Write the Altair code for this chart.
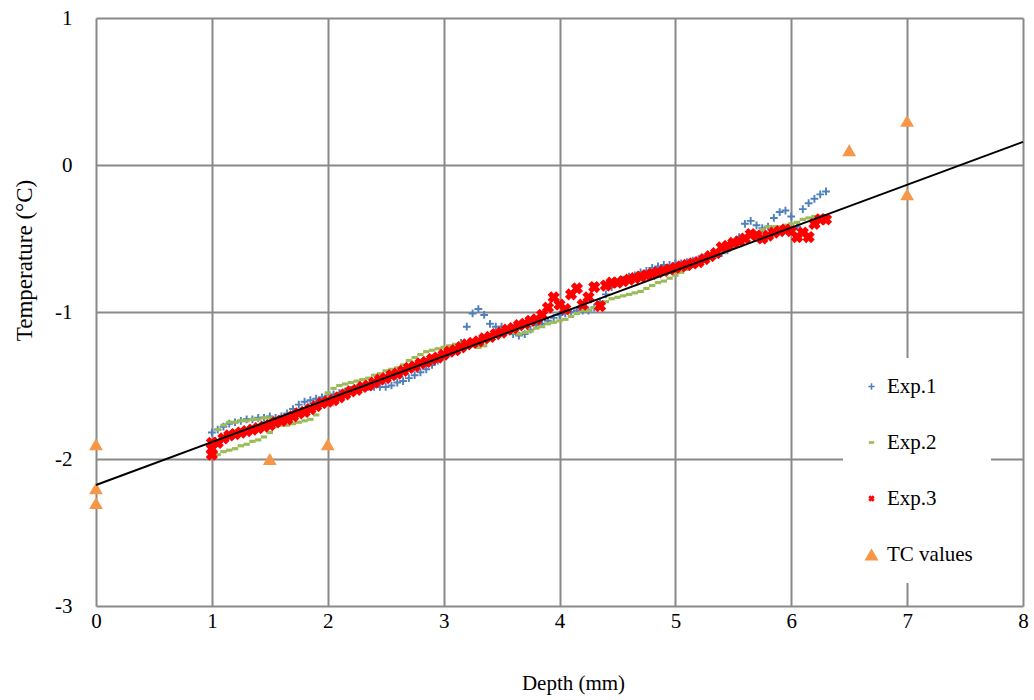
import altair as alt
import pandas as pd

# Depth grid of the probe readings (mm), sampled every 0.05 mm from 1.00 mm
DEPTH_START = 1.0
DEPTH_STEP = 0.05

# Exp.1 temperatures (°C)
exp1 = [
    -1.82, -1.80, -1.78, -1.76, -1.75, -1.74, -1.73, -1.73, -1.72, -1.72,
    -1.71, -1.72, -1.71, -1.69, -1.66, -1.63, -1.61, -1.60, -1.59, -1.58,
    -1.57, -1.56, -1.55, -1.54, -1.53, -1.52, -1.51, -1.51, -1.51, -1.51,
    -1.51, -1.50, -1.48, -1.47, -1.45, -1.43, -1.41, -1.39, -1.36, -1.33,
    -1.30, -1.28, -1.26, -1.21, -1.10, -1.01, -0.98, -1.02, -1.08, -1.10,
    -1.10, -1.12, -1.15, -1.16, -1.15, -1.12, -1.09, -1.08, -1.06, -1.04,
    -1.02, -1.01, -1.00, -0.99, -0.99, -0.99, -0.97, -0.93, -0.88, -0.83,
    -0.80, -0.78, -0.76, -0.75, -0.73, -0.72, -0.70, -0.69, -0.68, -0.68,
    -0.67, -0.67, -0.66, -0.65, -0.64, -0.63, -0.62, -0.61, -0.60, -0.58,
    -0.55, -0.49, -0.40, -0.38, -0.41, -0.43, -0.42, -0.36, -0.32, -0.31,
    -0.35, -0.42, -0.30, -0.26, -0.23, -0.20, -0.18,
]

# Exp.2 temperatures (°C)
exp2 = [
    -1.97, -1.97, -1.95, -1.94, -1.93, -1.91, -1.90, -1.88, -1.87, -1.85,
    -1.82, -1.78, -1.77, -1.77, -1.76, -1.75, -1.74, -1.73, -1.70, -1.62,
    -1.55, -1.52, -1.50, -1.49, -1.48, -1.47, -1.46, -1.45, -1.43, -1.42,
    -1.40, -1.39, -1.38, -1.36, -1.33, -1.31, -1.29, -1.27, -1.26, -1.25,
    -1.24, -1.23, -1.22, -1.21, -1.22, -1.23, -1.24, -1.23, -1.18, -1.14,
    -1.14, -1.14, -1.14, -1.15, -1.14, -1.13, -1.11, -1.10, -1.08, -1.07,
    -1.06, -1.05, -1.03, -1.01, -0.99, -0.99, -0.97, -0.95, -0.93, -0.91,
    -0.90, -0.89, -0.88, -0.87, -0.86, -0.84, -0.82, -0.80, -0.79, -0.77,
    -0.75, -0.73, -0.71, -0.69, -0.67, -0.65, -0.63, -0.61, -0.58, -0.56,
    -0.54, -0.53, -0.51, -0.49, -0.46, -0.44, -0.42, -0.42, -0.42, -0.41,
    -0.40, -0.39, -0.37, -0.36, -0.35, -0.35,
]
# Exp.2 second pass near the surface
exp2_extra_depth = [1.05, 1.10, 1.15, 1.20, 1.25, 1.30, 1.35, 1.40, 1.45, 1.50]
exp2_extra_temp = [-1.80, -1.77, -1.75, -1.75, -1.74, -1.74, -1.73, -1.73, -1.72, -1.72]

# Exp.3 temperatures (°C)
exp3 = [
    -1.93, -1.89, -1.86, -1.84, -1.83, -1.82, -1.81, -1.80, -1.79, -1.78,
    -1.77, -1.75, -1.74, -1.73, -1.71, -1.69, -1.68, -1.66, -1.64, -1.62,
    -1.61, -1.60, -1.58, -1.56, -1.54, -1.53, -1.51, -1.50, -1.48, -1.46,
    -1.45, -1.43, -1.42, -1.40, -1.38, -1.37, -1.35, -1.34, -1.32, -1.31,
    -1.29, -1.27, -1.26, -1.24, -1.22, -1.21, -1.20, -1.18, -1.17, -1.15,
    -1.14, -1.12, -1.11, -1.09, -1.08, -1.06, -1.05, -1.02, -0.97, -0.90,
    -0.95, -0.98, -0.88, -0.84, -0.95, -0.90, -0.83, -0.96, -0.82, -0.80,
    -0.80, -0.79, -0.78, -0.77, -0.76, -0.75, -0.74, -0.73, -0.72, -0.71,
    -0.70, -0.69, -0.68, -0.67, -0.66, -0.64, -0.62, -0.60, -0.56, -0.55,
    -0.53, -0.52, -0.50, -0.47, -0.48, -0.50, -0.48, -0.46, -0.45, -0.44,
    -0.45, -0.49, -0.46, -0.49, -0.40, -0.37, -0.37,
]
exp3_extra_depth = [1.0, 1.0]
exp3_extra_temp = [-1.97, -1.89]

# Thermocouple readings
tc_depth = [0, 0, 0, 1.5, 2, 2, 6.5, 7, 7]
tc_temp = [-1.9, -2.2, -2.3, -2.0, -1.9, -1.6, 0.1, 0.3, -0.2]

# Linear fit across the whole depth range
trend_depth = [0, 8]
trend_temp = [-2.177, 0.157]

series_names = ["Exp.1", "Exp.2", "Exp.3", "TC values"]
series_colors = ["#4F81BD", "#9BBB59", "#FF0000", "#F79646"]
plus_path = ("M-1,-0.25L-0.25,-0.25L-0.25,-1L0.25,-1L0.25,-0.25L1,-0.25"
             "L1,0.25L0.25,0.25L0.25,1L-0.25,1L-0.25,0.25L-1,0.25Z")
dash_path = "M-1,-0.5L1,-0.5L1,0.5L-1,0.5Z"
x_path = ("M-1,-0.4L-0.4,-1L0,-0.6L0.4,-1L1,-0.4L0.6,0L1,0.4L0.4,1"
          "L0,0.6L-0.4,1L-1,0.4L-0.6,0Z")
series_shapes = [plus_path, dash_path, x_path, "triangle-up"]

# marker areas in the plot, and the smaller ones drawn in the legend key
plot_sizes = {"Exp.1": 60, "Exp.2": 40, "Exp.3": 150, "TC values": 190}
key_sizes = {"Exp.1": 40, "Exp.2": 28, "Exp.3": 40, "TC values": 200}


def size_lookup(field, sizes):
    expr = "0"
    for name, s in reversed(list(sizes.items())):
        expr = f"({field} === '{name}' ? {s} : {expr})"
    return expr


plot_size_expr = (
    f"datum.series ? {size_lookup('datum.series', plot_sizes)}"
    f" : {size_lookup('datum.value', key_sizes)}"
)
key_size_expr = size_lookup("datum.value", key_sizes)


def grid_depths(n):
    return [round(DEPTH_START + DEPTH_STEP * i, 2) for i in range(n)]


rows = []
for d, t in zip(grid_depths(len(exp1)), exp1):
    rows.append({"depth": d, "temp": t, "series": "Exp.1"})
for d, t in zip(grid_depths(len(exp2)), exp2):
    rows.append({"depth": d, "temp": t, "series": "Exp.2"})
for d, t in zip(exp2_extra_depth, exp2_extra_temp):
    rows.append({"depth": d, "temp": t, "series": "Exp.2"})
for d, t in zip(tc_depth, tc_temp):
    rows.append({"depth": d, "temp": t, "series": "TC values"})
for d, t in zip(grid_depths(len(exp3)), exp3):
    rows.append({"depth": d, "temp": t, "series": "Exp.3"})
for d, t in zip(exp3_extra_depth, exp3_extra_temp):
    rows.append({"depth": d, "temp": t, "series": "Exp.3"})
points_df = pd.DataFrame(rows)

trend_df = pd.DataFrame({"depth": trend_depth, "temp": trend_temp})

FONT = "Liberation Serif"

x_enc = alt.X(
    "depth:Q",
    scale=alt.Scale(domain=[0, 8], nice=False),
    axis=alt.Axis(
        values=list(range(0, 9)),
        labelExpr="'' + datum.value",
        labelFlush=False,
        labelOverlap=False,
        labelFont=FONT,
        title="Depth (mm)",
        titleFont=FONT,
        titleX=477,
        titleY=77,
        titleBaseline="middle",
        labelPadding=4,
    ),
)
y_enc = alt.Y(
    "temp:Q",
    scale=alt.Scale(domain=[-3, 1], nice=False),
    axis=alt.Axis(
        values=[-3, -2, -1, 0, 1],
        labelExpr="'' + datum.value",
        labelFlush=False,
        labelOverlap=False,
        labelFont=FONT,
        title="Temperature (°C)",
        titleFont=FONT,
        titleFontSize=23,
        titleX=-72,
        titleY=242,
        titleBaseline="middle",
        labelPadding=24,
    ),
)

points = alt.Chart(points_df).mark_point(
    filled=True, opacity=1, strokeWidth=0, size=alt.ExprRef(expr=plot_size_expr)
).encode(
    x=x_enc,
    y=y_enc,
    color=alt.Color(
        "series:N",
        scale=alt.Scale(domain=series_names, range=series_colors),
        legend=alt.Legend(
            title=None,
            orient="none",
            legendX=747,
            legendY=340,
            fillColor="white",
            padding=18,
            rowPadding=34,
            labelOffset=5,
            labelFont=FONT,
            labelFontSize=21,
            labelColor="black",
            symbolSize=alt.ExprRef(expr=key_size_expr),
        ),
    ),
    shape=alt.Shape("series:N", scale=alt.Scale(domain=series_names, range=series_shapes)),
)

trend = alt.Chart(trend_df).mark_line(color="black", strokeWidth=2).encode(
    x="depth:Q", y="temp:Q"
)

chart = (
    alt.layer(points, trend)
    .properties(
        width=927,
        height=588,
        autosize=alt.AutoSizeParams(type="none"),
        padding={"left": 96, "top": 18, "right": 11, "bottom": 94},
        background="white",
    )
    .configure_view(stroke=None)
    .configure_legend(labelFont=FONT)
    .configure_axis(
        grid=True,
        gridColor="#898989",
        gridWidth=2,
        gridOpacity=1,
        domain=False,
        ticks=False,
        labelFont=FONT,
        labelFontSize=21,
        labelColor="black",
        titleFont=FONT,
        titleFontSize=21,
        titleFontWeight="normal",
        titleColor="black",
    )
)

chart.save("out.html", embed_options={"renderer": "svg", "actions": False})
